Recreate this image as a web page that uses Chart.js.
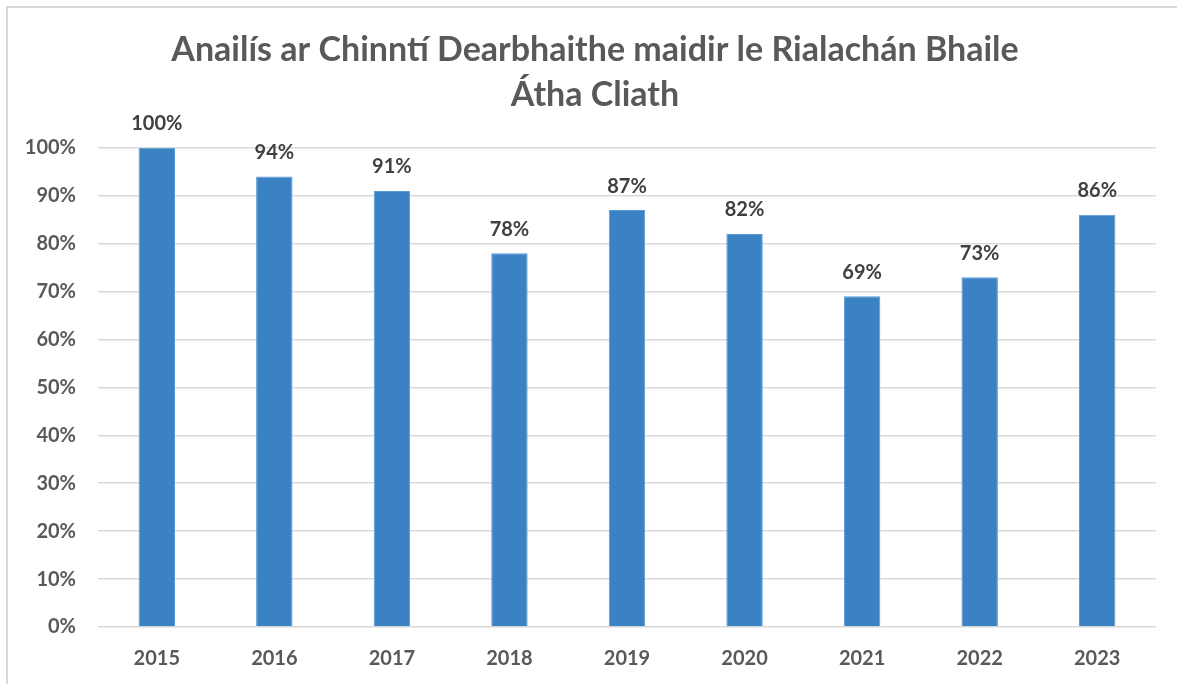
<!DOCTYPE html>
<html>
<head>
<meta charset="utf-8">
<script src="https://cdn.jsdelivr.net/npm/chart.js@4.4.1/dist/chart.umd.min.js"></script>
<style>
  html, body { margin: 0; padding: 0; background: #fff; }
  #frame {
    position: absolute; left: 6px; top: 6px; width: 1200px; height: 700px;
    border: 2px solid #d9d9d9; box-sizing: border-box;
  }
  #wrap { position: absolute; left: 0; top: 0; width: 1177px; height: 684px; }
</style>
</head>
<body>
<div id="frame"></div>
<div id="wrap"><canvas id="chart"></canvas></div>
<script>
// DATA
const years = ["2015", "2016", "2017", "2018", "2019", "2020", "2021", "2022", "2023"];
const confirmedPct = [100, 94, 91, 78, 87, 82, 69, 73, 86];
const titleLines = ["Anailís ar Chinntí Dearbhaithe maidir le Rialachán Bhaile", "Átha Cliath"];

const FONT = "Lato, 'Open Sans', sans-serif";

// simple value labels above bars (no datalabels plugin available)
const barLabels = {
  id: "barLabels",
  afterLayout(chart) {
    // centre the title on the frame, not on the chart area
    chart.titleBlock.left = 34;
  },
  afterDatasetsDraw(chart) {
    const ctx = chart.ctx;
    const meta = chart.getDatasetMeta(0);
    ctx.save();
    ctx.font = "bold 20px " + FONT;
    ctx.fillStyle = "#404040";
    ctx.textAlign = "center";
    ctx.textBaseline = "middle";
    meta.data.forEach((bar, i) => {
      ctx.fillText(confirmedPct[i] + "%", bar.x, bar.y - 24);
    });
    ctx.restore();
  }
};

new Chart(document.getElementById("chart"), {
  type: "bar",
  data: {
    labels: years,
    datasets: [{
      data: confirmedPct,
      backgroundColor: "#3a82c4",
      borderColor: "#5b9bd5",
      borderWidth: 1,
      barPercentage: 0.31,
      categoryPercentage: 1
    }]
  },
  options: {
    responsive: true,
    maintainAspectRatio: false,
    animation: false,
    layout: { padding: { left: 0, right: 21, top: 0, bottom: 0 } },
    plugins: {
      legend: { display: false },
      tooltip: { enabled: false },
      title: {
        display: true,
        text: titleLines,
        color: "#595959",
        font: { family: FONT, size: 34, weight: "bold", lineHeight: 1.32 },
        padding: { top: 28, bottom: 30 }
      }
    },
    scales: {
      x: {
        grid: { display: false, drawTicks: false },
        border: { display: false },
        ticks: { color: "#595959", font: { family: FONT, size: 20, weight: "bold" }, padding: 20 },
        afterFit: (s) => { s.height = 57; }
      },
      y: {
        min: 0,
        max: 100,
        ticks: {
          stepSize: 10,
          color: "#595959",
          font: { family: FONT, size: 20, weight: "bold" },
          padding: 22,
          callback: (v) => v + "%"
        },
        grid: { color: "#d9d9d9", lineWidth: 1.5, drawTicks: false },
        border: { display: false },
        afterFit: (s) => { s.width = 98; }
      }
    }
  },
  plugins: [barLabels]
});
</script>
</body>
</html>
